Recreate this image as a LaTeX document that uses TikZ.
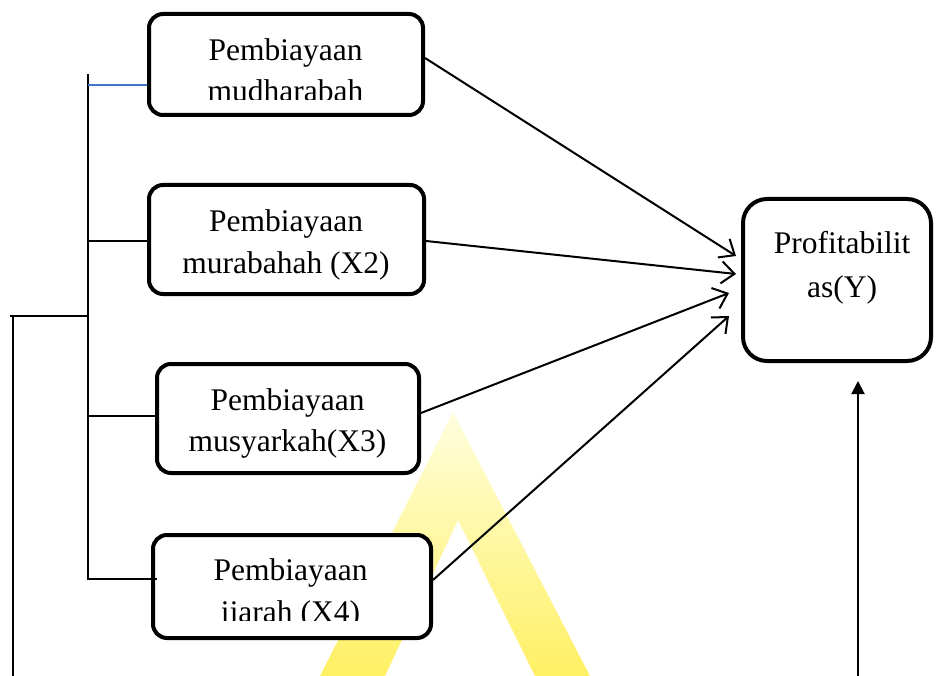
\documentclass[tikz,border=0pt]{standalone}
\usepackage{fontspec}
\setmainfont{Liberation Serif}
\usetikzlibrary{arrows.meta}
\definecolor{busblue}{RGB}{68,114,196}
\definecolor{wmtop}{RGB}{255,254,222}
\definecolor{wmbot}{RGB}{255,240,100}
\tikzset{
  box/.style={draw, fill=white, line width=4pt, rounded corners=14pt, inner sep=0pt},
  ybox/.style={draw, fill=white, line width=4pt, rounded corners=24pt, inner sep=0pt},
  lbl/.style={font=\fontsize{31.5}{39}\selectfont, anchor=base, inner sep=0pt},
  conn/.style={line width=1.6pt},
  feed/.style={line width=2pt, -{Straight Barb[length=13pt,width=22pt,line width=2pt]}},
  uparrow/.style={line width=2pt, -{Triangle[length=13pt,width=13pt]}}
}
\begin{document}
\begin{tikzpicture}[x=1pt,y=-1pt]
\useasboundingbox[fill=white] (0,0) rectangle (936,676);
% watermark
\shade[top color=wmtop, bottom color=wmbot, even odd rule]
  (453,412) -- (320,676) -- (590,676) -- cycle
  (458,520) -- (385,676) -- (535,676) -- cycle;
% boxes
\node[box, minimum width=274pt, minimum height=101pt] (b1) at (286,64.5) {};
\node[box, minimum width=275pt, minimum height=109pt] (b2) at (286.5,239.5) {};
\node[box, minimum width=262pt, minimum height=109pt] (b3) at (288,418.5) {};
\node[box, minimum width=278pt, minimum height=103pt] (b4) at (292,586.5) {};
\node[ybox, minimum width=188pt, minimum height=162pt] (Y) at (837,280) {};
% texts
\begin{scope}
\clip (150,14) rectangle (422,99.5);
\node[lbl] (t1a) at (285.5,60.5) {Pembiayaan};
\node[lbl] (t1b) at (285.5,101.5) {mudharabah};
\end{scope}
\node[lbl] (t2a) at (286,231.5) {Pembiayaan};
\node[lbl] (t2b) at (286,273.5) {murabahah (X2)};
\node[lbl] (t3a) at (287.5,410) {Pembiayaan};
\node[lbl] (t3b) at (287.5,451) {musyarkah(X3)};
\begin{scope}
\clip (154,536) rectangle (430,620.5);
\node[lbl] (t4a) at (290.5,580) {Pembiayaan};
\node[lbl] (t4b) at (290.5,622) {ijarah (X4)};
\end{scope}
\node[lbl] (tya) at (842,253) {Profitabilit};
\node[lbl] (tyb) at (842,297) {as(Y)};
% bus lines
\coordinate (bt) at (88,74);
\coordinate (bb) at (88,580);
\draw[conn] (bt) -- (bb);
\coordinate (j1) at (88,85);
\coordinate (j2) at (88,241);
\coordinate (j3) at (88,416);
\coordinate (j4) at (88,579);
\draw[conn, busblue] (j1) -- (j1 -| b1.west);
\draw[conn] (j2) -- (j2 -| b2.west);
\draw[conn] (j3) -- (j3 -| b3.west);
\draw[conn] ([xshift=-1pt]j4) -- ([xshift=6pt]j4 -| b4.west);
\coordinate (k1) at (10,316);
\coordinate (k2) at (88,316);
\coordinate (k3) at (13,316);
\coordinate (k4) at (13,676);
\draw[conn] (k1) -- (k2);
\draw[conn] (k3) -- (k4);
% arrows
\draw[feed] ([yshift=6.5pt]b1.east) -- ([xshift=-5pt,yshift=24pt]Y.west);
\draw[feed] ([yshift=-1.5pt]b2.east) -- ([xshift=-5pt,yshift=6pt]Y.west);
\draw[feed] ([yshift=5.5pt]b3.east) -- ([xshift=-12pt,yshift=-13pt]Y.west);
\draw[feed] ([yshift=6.5pt]b4.east) -- ([xshift=-12pt,yshift=-36pt]Y.west);
\coordinate (ub) at (858,676);
\coordinate (ut) at (858,381);
\draw[uparrow] (ub) -- (ut);
\end{tikzpicture}
\end{document}
